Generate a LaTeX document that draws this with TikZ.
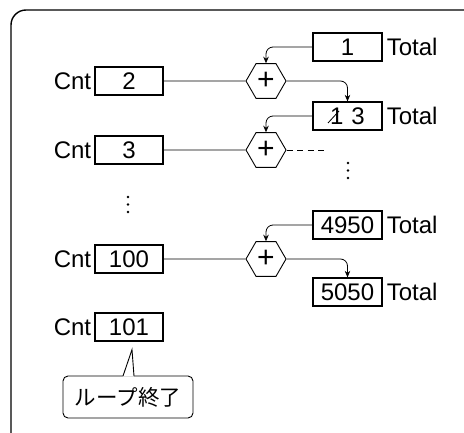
\documentclass[tikz,border=0pt]{standalone}
\usepackage{fontspec}
\setmainfont{Liberation Sans}
\newfontfamily\jpfont{Noto Sans CJK JP}
\usetikzlibrary{arrows.meta, shapes.geometric, positioning, calc}

\begin{document}
\begin{tikzpicture}[x=1pt, y=-1pt,
    font=\fontsize{24}{27}\selectfont,
    valbox/.style={draw, line width=1.3pt, minimum width=68pt, minimum height=28pt, inner sep=0pt},
    addhex/.style={draw, line width=0.9pt, regular polygon, regular polygon sides=6,
      minimum size=40pt, inner sep=0pt, font=\fontsize{30}{30}\selectfont},
    link/.style={line width=0.8pt, rounded corners=7pt, -{Stealth[length=6.5pt, width=5.5pt]}}]
  \useasboundingbox (0,0) rectangle (464,433);
  % Outer frame, cut off at the right and bottom.
  \draw[line width=1.4pt, rounded corners=15pt] (11,10) rectangle (490,460);
  % Counter boxes on the left.
  \node[valbox] (c2) at (129,81) {2};
  \node[valbox] (c3) at (129,150) {3};
  \node[valbox] (c100) at (129,259) {100};
  \node[valbox] (c101) at (129,327) {101};
  \foreach \n in {2,3,100,101}
    \node[left=3pt of c\n, inner sep=0pt] (cnt\n) {Cnt};
  % Adders.
  \node[addhex] (h1) at (266,81) {+};
  \node[addhex] (h2) at (266,150) {+};
  \node[addhex] (h3) at (266,259) {+};
  \draw[line width=0.8pt] (c2.east) -- (h1.west);
  \draw[line width=0.8pt] (c3.east) -- (h2.west);
  \draw[line width=0.8pt] (c100.east) -- (h3.west);
  % Totals on the right.
  \node[valbox, minimum width=69pt] (t1) at (347.5,47) {1};
  \node[valbox, minimum width=69pt] (t2) at (347.5,116) {1\hspace{8pt}3\hspace{6pt}};
  \node[valbox, minimum width=69pt] (t4950) at (347.5,225) {4950};
  \node[valbox, minimum width=69pt] (t5050) at (347.5,292) {5050};
  \foreach \t in {t1,t2,t4950,t5050}
    \node[right=4pt of \t, inner sep=0pt] (lab\t) {Total};
  \draw[line width=0.8pt] ($(t2.center)+(-19.5,7)$) -- ($(t2.center)+(-8.5,-5)$);
  % Flow between totals and adders.
  \draw[link] (t1.west) -| (h1.north);
  \draw[link] (h1.east) -| (t2.north);
  \draw[link] (t2.west) -| (h2.north);
  \draw[line width=0.8pt, dash pattern=on 6pt off 4.5pt] (h2.east) -- ++(41,0) coordinate (more);
  \draw[link] (t4950.west) -| (h3.north);
  \draw[link] (h3.east) -| (t5050.north);
  % Skipped steps.
  \foreach \y in {163,170.5,178} \fill (348,\y) circle (1.4pt);
  \foreach \y in {197,204.5,212} \fill (128,\y) circle (1.4pt);
  % Callout for the last counter.
  \node[draw, line width=0.9pt, rounded corners=5pt, minimum width=130pt, minimum height=42pt,
    font=\jpfont\fontsize{21.5}{24}\selectfont] (done) at (128,397) {ループ終了};
  \coordinate (tip) at ([xshift=3pt, yshift=-8pt]c101.south);
  \fill[white] ([xshift=-5pt, yshift=-1pt]done.north) -- (tip) -- ([xshift=6pt, yshift=-1pt]done.north) -- cycle;
  \draw[line width=0.9pt] ([xshift=-5pt, yshift=-0.45pt]done.north) -- (tip) -- ([xshift=6pt, yshift=-0.45pt]done.north);
\end{tikzpicture}
\end{document}
